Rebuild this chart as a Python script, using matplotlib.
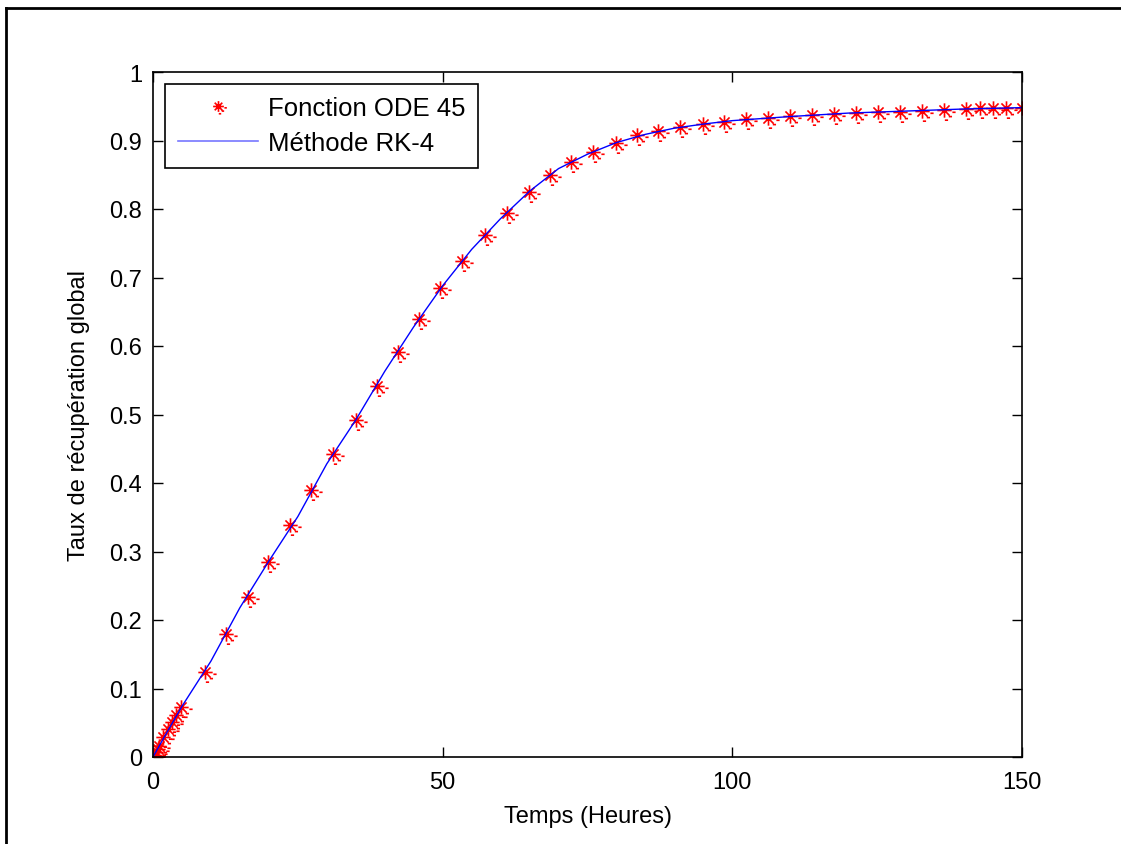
import numpy as np
import matplotlib.pyplot as plt
from matplotlib.path import Path
from matplotlib.lines import Line2D

plt.rcParams['font.family'] = ['Liberation Sans', 'DejaVu Sans']

# Fonction ODE 45
t_ode = [0.0, 0.2, 0.5, 0.8, 1.1, 1.7, 2.6, 3.3, 4.0, 4.8,
         9.0, 12.6, 16.4, 19.9, 23.6, 27.3, 31.1, 35.0, 38.7, 42.3,
         45.9, 49.5, 53.3, 57.3, 61.1, 64.9, 68.5, 72.2, 76.0, 79.9,
         83.5, 87.2, 91.0, 94.9, 98.6, 102.4, 106.2, 110.0, 113.8, 117.6,
         121.4, 125.2, 129.0, 132.8, 136.5, 140.3, 142.8, 145.0, 147.2, 150.0]
y_ode = [0.0, 0.003, 0.007, 0.011, 0.016, 0.029, 0.041, 0.051, 0.061, 0.073,
         0.124, 0.180, 0.234, 0.285, 0.339, 0.390, 0.442, 0.492, 0.542, 0.591,
         0.639, 0.685, 0.724, 0.762, 0.794, 0.825, 0.850, 0.869, 0.883, 0.896,
         0.908, 0.914, 0.920, 0.924, 0.927, 0.931, 0.933, 0.936, 0.937, 0.939,
         0.940, 0.942, 0.942, 0.943, 0.945, 0.946, 0.947, 0.947, 0.947, 0.947]

# Methode RK-4
t_rk = [0, 2, 5, 10, 15, 20, 25, 30, 35, 40, 45, 50, 55, 60, 65, 70,
        75, 80, 85, 90, 95, 100, 110, 120, 130, 140, 150]
y_rk = [0.0, 0.030, 0.074, 0.140, 0.218, 0.286, 0.351, 0.428, 0.492, 0.563,
        0.628, 0.688, 0.741, 0.786, 0.826, 0.859, 0.880, 0.897, 0.909, 0.918,
        0.924, 0.929, 0.935, 0.940, 0.943, 0.946, 0.948]

xticks = [0, 50, 100, 150]
yticks = [0, 0.1, 0.2, 0.3, 0.4, 0.5, 0.6, 0.7, 0.8, 0.9, 1]

# marqueur asterisque facon matlab avec petits tirets
verts, codes = [], []
for a in np.arange(0, np.pi, np.pi / 4):
    verts += [(np.cos(a), np.sin(a)), (-np.cos(a), -np.sin(a))]
    codes += [Path.MOVETO, Path.LINETO]
for (x0, y0) in [(1.1, -0.25), (0.6, -0.85), (0.05, -1.35)]:
    verts += [(x0, y0), (x0 + 0.45, y0)]
    codes += [Path.MOVETO, Path.LINETO]
star = Path(verts, codes)

fig = plt.figure(figsize=(11.21, 8.45), dpi=100)
ax = fig.add_axes([153 / 1121, 87 / 845, 869 / 1121, 685 / 845])

ax.plot(t_ode, y_ode, linestyle='none', marker=star, markersize=16,
        markeredgecolor='red', markerfacecolor='none', markeredgewidth=1.2,
        label='Fonction ODE 45')
ax.plot(t_rk, y_rk, color='blue', linewidth=1, label='Méthode RK-4')

ax.set_xlim(0, 150)
ax.set_ylim(0, 1)
ax.set_xticks(xticks)
ax.set_xticklabels([str(v) for v in xticks])
ax.set_yticks(yticks)
ax.set_yticklabels(['0', '0.1', '0.2', '0.3', '0.4', '0.5', '0.6', '0.7', '0.8', '0.9', '1'])
ax.tick_params(direction='in', top=True, right=True, length=7, width=1,
               labelsize=17)
ax.tick_params(axis='x', pad=10)
ax.tick_params(axis='y', pad=8)
for s in ax.spines.values():
    s.set_linewidth(1.2)

ax.set_xlabel('Temps (Heures)', fontsize=17, labelpad=9)
ax.set_ylabel('Taux de récupération global', fontsize=17, labelpad=14)

handles = [Line2D([], [], linestyle='none', marker=star, markersize=12,
                  markeredgecolor='red', markerfacecolor='none', markeredgewidth=1.2),
           Line2D([], [], color='#7777ff', linewidth=1.2)]
leg = ax.legend(handles, ['Fonction ODE 45', 'Méthode RK-4'], loc='upper left',
                bbox_to_anchor=(0.014, 0.983), fontsize=18.5, fancybox=False,
                framealpha=1, edgecolor='black', borderpad=0.5, borderaxespad=0,
                handlelength=3.1, handletextpad=0.4, labelspacing=0.42)
leg.get_frame().set_linewidth(1.2)

# cadre exterieur (gauche et haut)
fig.add_artist(Line2D([5.5 / 1121, 5.5 / 1121], [0, 1 - 8.5 / 845], color='black',
                      linewidth=2, transform=fig.transFigure))
fig.add_artist(Line2D([5.5 / 1121, 1], [1 - 8.5 / 845, 1 - 8.5 / 845], color='black',
                      linewidth=2, transform=fig.transFigure))

fig.savefig('out.png', dpi=100)
